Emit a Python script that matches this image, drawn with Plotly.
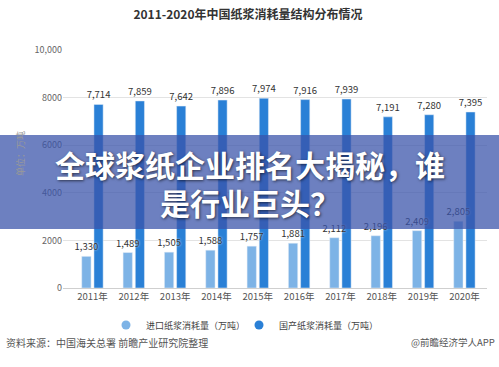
import plotly.graph_objects as go

years = ["2011年", "2012年", "2013年", "2014年", "2015年", "2016年", "2017年", "2018年", "2019年", "2020年"]
imported = [1330, 1489, 1505, 1588, 1757, 1881, 2112, 2196, 2409, 2805]
domestic = [7714, 7859, 7642, 7896, 7974, 7916, 7939, 7191, 7280, 7395]
tick_vals = [0, 2000, 4000, 6000, 8000, 10000]
tick_text = ["0", "2000", "4000", "6000", "8000", "10,000"]

name_imp = "进口纸浆消耗量（万吨）"
name_dom = "国产纸浆消耗量（万吨）"
c_imp = "#7db3e6"
c_dom = "#2a80d6"
FONT = "Noto Sans CJK SC"
label_font = dict(size=9.5, color="#333", family=FONT, shadow="0px 0px 2px white")

fig = go.Figure()
fig.add_trace(go.Bar(x=years, y=domestic, name=name_dom, marker_color=c_dom,
                     offset=0.035, width=0.222,
                     texttemplate="%{y:,}", textposition="outside",
                     constraintext="none", cliponaxis=False, showlegend=False,
                     textfont=label_font))
fig.add_trace(go.Bar(x=years, y=imported, name=name_imp, marker_color=c_imp,
                     offset=-0.26, width=0.225,
                     texttemplate="%{y:,}", textposition="outside",
                     constraintext="none", cliponaxis=False, showlegend=False,
                     textfont=label_font))
# legend entries with circular markers
fig.add_trace(go.Scatter(x=[None], y=[None], mode="markers", name=name_imp, legend="legend",
                         marker=dict(symbol="circle", size=9, color=c_imp)))
fig.add_trace(go.Scatter(x=[None], y=[None], mode="markers", name=name_dom, legend="legend2",
                         marker=dict(symbol="circle", size=9, color=c_dom)))

W, H = 499, 367
L, R, T, B = 63, 12, 50, 79
pw, ph = W - L - R, H - T - B

def px(x):
    return (x - L) / pw

def py(y):
    return (H - B - y) / ph

leg_common = dict(orientation="h", xanchor="left", y=py(325), yanchor="middle",
                  font=dict(size=9, color="#444"), itemwidth=30)

fig.update_layout(
    width=W, height=H,
    margin=dict(l=L, r=R, t=T, b=B),
    paper_bgcolor="white", plot_bgcolor="white",
    font=dict(family=FONT, size=9, color="#555"),
    barmode="group",
    title=dict(text="<b>2011-2020年中国纸浆消耗量结构分布情况</b>", x=248 / W, xanchor="center",
               y=1 - 15 / H, yanchor="middle", font=dict(size=12, color="#333", family=FONT)),
    xaxis=dict(showgrid=False, showline=True, linecolor="#cfcfcf", linewidth=1,
               range=[-0.714, 9.545],
               tickfont=dict(size=9.5, color="#555"), ticks=""),
    yaxis=dict(range=[0, 10000], tickvals=tick_vals, ticktext=tick_text, showgrid=True,
               gridcolor="#e3e3e3", zeroline=False, showline=False,
               tickfont=dict(size=9, color="#666"), ticks=""),
    legend=dict(x=px(106), **leg_common),
    legend2=dict(x=px(239), **leg_common),
    showlegend=True,
)

fig.add_shape(type="rect", xref="paper", yref="paper", x0=px(-5), x1=px(W + 5),
              y0=py(229), y1=py(135), fillcolor="rgba(58,84,170,0.74)", line_width=0,
              layer="above")

fig.add_annotation(text="单位：万吨", xref="paper", yref="paper", x=px(20), y=py(154),
                   xanchor="center", yanchor="middle",
                   textangle=-90, showarrow=False, font=dict(size=9, color="#999"))
fig.add_annotation(text="资料来源：中国海关总署 前瞻产业研究院整理", xref="paper", yref="paper",
                   x=px(4), xanchor="left", y=py(342), yanchor="middle", showarrow=False,
                   font=dict(size=10, color="#555"))
fig.add_annotation(text="@前瞻经济学人APP", xref="paper", yref="paper",
                   x=px(497), xanchor="right", y=py(342), yanchor="middle", showarrow=False,
                   font=dict(size=9.5, color="#555"))
fig.add_annotation(text="<b>全球浆纸企业排名大揭秘，谁</b>", xref="paper", yref="paper",
                   x=px(250), y=py(164), yanchor="middle", showarrow=False,
                   font=dict(size=30, color="white", family=FONT,
                             shadow="1px 1px 3px rgba(0,0,0,0.6)"))
fig.add_annotation(text="<b>是行业巨头？</b>", xref="paper", yref="paper",
                   x=px(250), y=py(202), yanchor="middle", showarrow=False,
                   font=dict(size=30, color="white", family=FONT,
                             shadow="1px 1px 3px rgba(0,0,0,0.6)"))

fig.write_html("out.html", config={"displayModeBar": False},
               post_script="document.body.style.margin='0';")
